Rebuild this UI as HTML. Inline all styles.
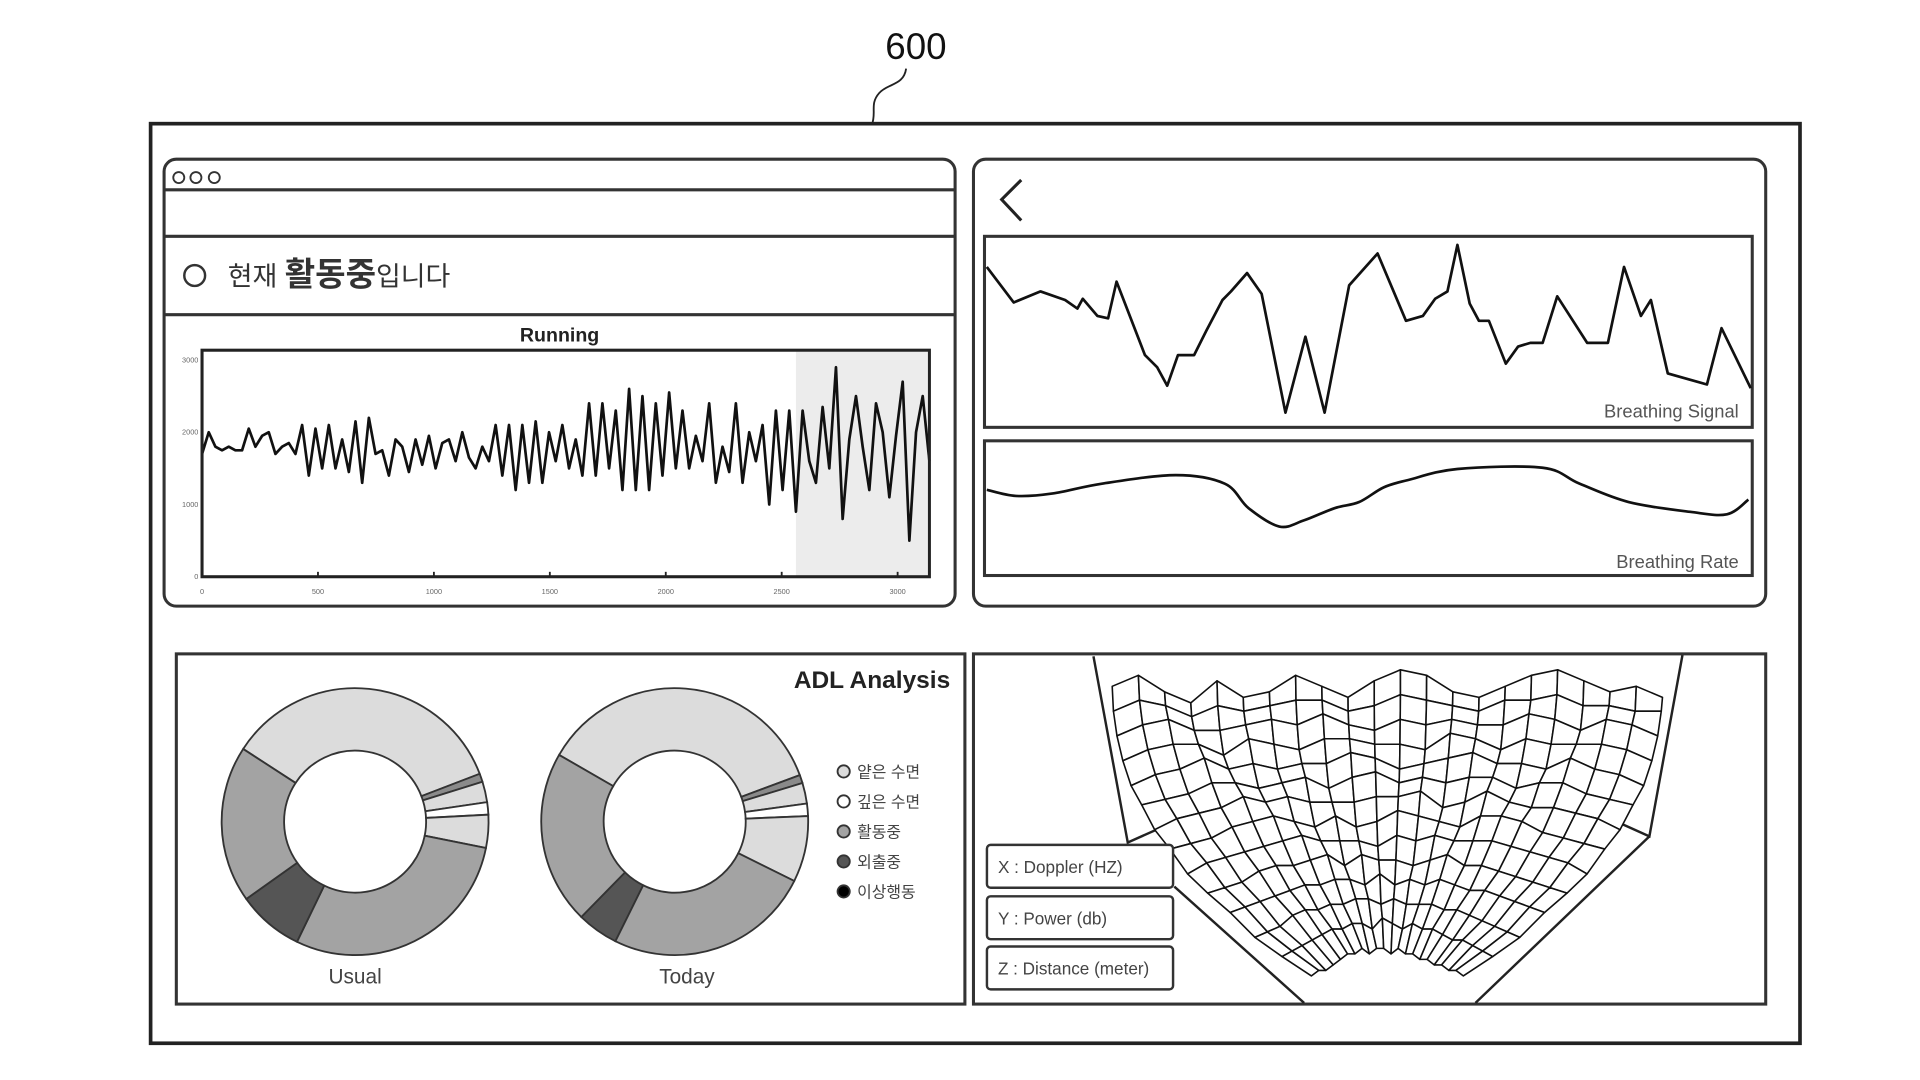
<!DOCTYPE html>
<html><head><meta charset="utf-8"><style>
html,body{margin:0;padding:0;background:#fff;width:1920px;height:1080px;overflow:hidden}
svg{display:block}
text{font-family:"Liberation Sans","Noto Sans CJK KR",sans-serif}
</style></head><body>
<svg id="s" width="1920" height="1080" viewBox="0 0 1568 882" preserveAspectRatio="none" xmlns="http://www.w3.org/2000/svg">
<defs><clipPath id="pc"><rect x="796" y="536" width="645" height="283"/></clipPath></defs>
<text x="748" y="48" font-size="30" text-anchor="middle" fill="#111">600</text>
<path d="M740 56 C738 70,725 68,718 76 C710 85,716 92,712 102" fill="none" stroke="#222" stroke-width="1.5"/>
<rect x="123" y="101" width="1347" height="751" fill="none" stroke="#222" stroke-width="3"/>

<g>
<rect x="134" y="130" width="646" height="365" rx="10" fill="none" stroke="#333" stroke-width="2.5"/>
<line x1="134" y1="155" x2="780" y2="155" stroke="#333" stroke-width="2.5"/>
<line x1="134" y1="193" x2="780" y2="193" stroke="#333" stroke-width="2.5"/>
<line x1="134" y1="257" x2="780" y2="257" stroke="#333" stroke-width="2.5"/>
<circle cx="146" cy="145" r="4.5" fill="none" stroke="#333" stroke-width="1.5"/>
<circle cx="160" cy="145" r="4.5" fill="none" stroke="#333" stroke-width="1.5"/>
<circle cx="175" cy="145" r="4.5" fill="none" stroke="#333" stroke-width="1.5"/>
<circle cx="159" cy="225" r="8.5" fill="none" stroke="#333" stroke-width="2"/>
<text x="186" y="233" font-size="22" fill="#333">현재 <tspan font-size="27" font-weight="bold">활동중</tspan>입니다</text>
<text x="457" y="279" font-size="16" font-weight="bold" text-anchor="middle" fill="#222">Running</text>
<rect x="650" y="287" width="107" height="183" fill="#ececec"/>
<g id="run"></g>
<rect x="165" y="286" width="594" height="185" fill="none" stroke="#222" stroke-width="2.5"/>
</g>

<g>
<rect x="795" y="130" width="647" height="365" rx="10" fill="none" stroke="#333" stroke-width="2.5"/>
<path d="M834 147 L818 163 L834 180" fill="none" stroke="#222" stroke-width="2.5"/>
<rect x="804" y="193" width="627" height="156" fill="none" stroke="#333" stroke-width="2.5"/>
<rect x="804" y="360" width="627" height="110" fill="none" stroke="#333" stroke-width="2.5"/>
<g id="br"></g>
<text x="1420" y="341" font-size="15" text-anchor="end" fill="#555">Breathing Signal</text>
<text x="1420" y="464" font-size="15" text-anchor="end" fill="#555">Breathing Rate</text>
</g>

<g>
<rect x="144" y="534" width="644" height="286" fill="none" stroke="#333" stroke-width="2.5"/>
<text x="776" y="562" font-size="20" font-weight="bold" text-anchor="end" fill="#222">ADL Analysis</text>
<g id="donuts"></g>
<text x="290" y="803" font-size="17" text-anchor="middle" fill="#444">Usual</text>
<text x="561" y="803" font-size="17" text-anchor="middle" fill="#444">Today</text>
<g id="legend"></g>
</g>

<g>
<rect x="795" y="534" width="647" height="286" fill="none" stroke="#333" stroke-width="2.5"/>
<polyline points="893,536 921,688 975,664" fill="none" stroke="#222" stroke-width="2"/>
<polyline points="1374,535 1347,683 1298,661" fill="none" stroke="#222" stroke-width="2"/>
<line x1="959" y1="724" x2="1065" y2="819" stroke="#222" stroke-width="2"/>
<line x1="1205" y1="819" x2="1347" y2="683" stroke="#222" stroke-width="2"/>
<g id="surf" clip-path="url(#pc)"></g>
<g><rect x="806" y="690" width="152" height="35" rx="3" fill="#fff" stroke="#333" stroke-width="2"/><text x="815" y="713" font-size="14" fill="#444">X : Doppler (HZ)</text></g>
<g><rect x="806" y="732" width="152" height="35" rx="3" fill="#fff" stroke="#333" stroke-width="2"/><text x="815" y="755" font-size="14" fill="#444">Y : Power (db)</text></g>
<g><rect x="806" y="773" width="152" height="35" rx="3" fill="#fff" stroke="#333" stroke-width="2"/><text x="815" y="796" font-size="14" fill="#444">Z : Distance (meter)</text></g>
</g>
</svg>
<script>
// ---- Running chart data ----
const runValues=[1700,2000,1800,1750,1800,1750,1750,2050,1800,1950,2000,1700,1800,1850,1700,2100,1400,2050,1500,2100,1500,1900,1450,2150,1300,2200,1700,1750,1400,1900,1800,1450,1900,1550,1950,1500,1850,1900,1600,2000,1650,1500,1800,1600,2100,1400,2100,1200,2100,1300,2150,1300,2000,1600,2100,1500,1900,1400,2400,1400,2400,1500,2300,1200,2600,1200,2500,1200,2400,1400,2550,1500,2300,1500,1950,1600,2400,1300,1800,1450,2400,1300,2000,1600,2100,1000,2300,1200,2300,900,2300,1600,1300,2350,1500,2900,800,1900,2500,1800,1200,2400,2000,1100,1950,2700,500,2000,2500,1600];
const runYTicks=[0,1000,2000,3000];
const runXTicks=[0,500,1000,1500,2000,2500,3000];
const runXMax=3137;
// ---- Breathing data ----
const sigTimes=[0.3,3.8,7.3,10.5,12.1,12.8,14.7,16.1,17.2,20.9,22.5,23.8,25.2,27.3,28.9,31.0,32.1,34.2,36.1,39.2,41.8,44.3,47.5,51.2,54.9,57.1,58.7,60.3,61.6,63.2,64.4,65.7,67.9,69.5,71.1,72.7,74.6,78.5,81.2,83.3,85.5,86.8,89.0,94.1,96.0,99.8];
const sigValues=[131,102,111,104,97,105,91,89,119,59,49,34,59,59,79,104,111,126,109,12,74,12,116,142,87,91,105,111,149,101,87,87,52,66,69,69,107,69,69,131,91,104,44,35,81,32];
const rateTimes=[0.3,4.1,8.9,15.3,24.9,31.3,34.4,38.4,41.6,45.6,48.8,52.0,55.2,61.6,72.7,77.5,83.9,91.9,96.7,99.5];
const rateValues=[70,65,67,75,82,75,55,40,45,55,60,72,78,87,88,75,60,52,50,62];
// ---- ADL data ----
const adlCategories=['얕은 수면','깊은 수면','활동중','외출중','이상행동'];
const sliceCats=[0,'h',0,1,0,2,3,2];
const usualValues=[35,1,2.5,1.5,4,29,8,19];
const todayValues=[36,1,2.5,1.5,8,25,5,21];
// ---- Surface heights ----
const surfHeights=[
[7,9,6,4,8,5,6,9,7,5,8,10,9,6,5,7,9,10,8,6,7,5],
[6,8,7,5,7,6,7,8,8,6,7,9,8,7,6,8,8,9,7,7,6,6],
[5,7,8,6,6,7,8,7,9,7,6,8,7,8,7,7,9,8,6,8,7,5],
[4,6,7,7,5,8,7,6,8,8,7,7,6,9,8,6,8,7,7,7,6,4],
[3,5,6,8,6,7,6,7,7,9,8,6,7,8,9,7,7,6,8,6,5,3],
[3,4,5,7,7,6,7,8,6,8,9,7,8,7,8,8,6,7,7,5,4,3],
[2,4,5,6,8,7,8,7,7,7,8,8,9,6,7,9,7,6,6,5,4,2],
[2,3,4,6,7,8,7,6,8,6,7,9,8,7,6,8,8,7,5,4,3,2],
[1,3,4,5,6,7,8,7,7,7,6,8,7,8,7,7,7,6,5,4,3,1],
[1,2,3,5,6,6,7,8,6,8,7,7,6,7,8,6,6,5,4,3,2,1],
[1,2,3,4,5,6,6,7,7,6,8,6,7,6,7,6,5,5,4,3,2,1],
[0,1,2,4,5,5,6,6,7,7,6,7,6,6,6,5,5,4,3,2,1,0],
[0,1,2,3,4,5,5,6,6,5,7,6,5,6,5,5,4,3,3,2,1,0],
[0,1,1,2,3,4,4,5,4,5,5,4,5,4,4,3,3,2,2,1,1,0]];

const NS='http://www.w3.org/2000/svg';
function mk(tag,attrs,parent){const e=document.createElementNS(NS,tag);for(const k in attrs)e.setAttribute(k,attrs[k]);parent.appendChild(e);return e;}

// Running chart
const run=document.getElementById('run');
const rx=v=>165+v*(594/runXMax), ry=v=>471-v*(177/3000);
runYTicks.forEach(t=>{
  const tl=mk('text',{x:162,y:ry(t)+2,'font-size':6,'text-anchor':'end',fill:'#666'},run);tl.textContent=t;
  
  
});
runXTicks.forEach(t=>{
  const tm=mk('line',{x1:rx(t),y1:471,x2:rx(t),y2:467,stroke:'#222','stroke-width':1.5},run);
  
  
  const tl=mk('text',{x:rx(t),y:485,'font-size':6,'text-anchor':'middle',fill:'#666'},run);tl.textContent=t;
  
  
});
const step=runXMax/(runValues.length-1);
const rl=mk('polyline',{points:runValues.map((v,i)=>rx(i*step)+','+ry(v)).join(' '),fill:'none',stroke:'#111','stroke-width':2.2,'stroke-linejoin':'round'},run);



// Breathing
const br=document.getElementById('br');
const bx=t=>804+t*6.27;
const sl=mk('polyline',{points:sigTimes.map((t,i)=>bx(t)+','+(349-sigValues[i])).join(' '),fill:'none',stroke:'#111','stroke-width':2.2,'stroke-linejoin':'round'},br);


const rp=rateTimes.map((t,i)=>[bx(t),470-rateValues[i]]);
let d='M'+rp[0][0]+' '+rp[0][1];
for(let i=0;i<rp.length-1;i++){const p0=rp[Math.max(0,i-1)],p1=rp[i],p2=rp[i+1],p3=rp[Math.min(rp.length-1,i+2)];
d+=` C${p1[0]+(p2[0]-p0[0])/6} ${p1[1]+(p2[1]-p0[1])/6},${p2[0]-(p3[0]-p1[0])/6} ${p2[1]-(p3[1]-p1[1])/6},${p2[0]} ${p2[1]}`;}
const rtl=mk('path',{d:d,fill:'none',stroke:'#111','stroke-width':2.2},br);



// Donuts
const fills={0:'#dcdcdc',1:'#ffffff',2:'#a3a3a3',3:'#555555',4:'#000000',h:'#8a8a8a'};
const dg=document.getElementById('donuts');
function donut(cx,cy,vals,start,name){
  const tot=vals.reduce((a,b)=>a+b,0);let a=start;const R=109,r=58;
  vals.forEach((v,i)=>{const a2=a+v/tot*360;const p=(ang,rad)=>{const t=(ang-90)*Math.PI/180;return [cx+rad*Math.cos(t),cy+rad*Math.sin(t)];};
    const lg=(a2-a)>180?1:0;const o1=p(a,R),o2=p(a2,R),i1=p(a2,r),i2=p(a,r);
    const sp=mk('path',{d:`M${o1} A${R} ${R} 0 ${lg} 1 ${o2} L${i1} A${r} ${r} 0 ${lg} 0 ${i2} Z`,fill:fills[sliceCats[i]],stroke:'#333','stroke-width':1.5},dg);
    
    
    a=a2;});
}
donut(290,671,usualValues,-57,'usual');
donut(551,671,todayValues,-60,'today');
const lg=document.getElementById('legend');
adlCategories.forEach((c,i)=>{const y=630+i*24.5;
  const g=mk('g',{},lg);
  
  
  mk('circle',{cx:689,cy:y,r:5,fill:fills[i],stroke:'#333','stroke-width':1.5},g);
  const t=mk('text',{x:700,y:y+5,'font-size':13,fill:'#444'},g);t.textContent=c;});

// Surface
const sg=document.getElementById('surf');
const R=surfHeights.length,C=surfHeights[0].length;
function proj(v,u){const f=v/(R-1);const w=21.4-f*f*15.5;const cx=1133;const x=cx+(u-(C-1)/2)*w;const y=592+v*(205/(R-1))-surfHeights[v][u]*4.5;return x.toFixed(1)+','+y.toFixed(1);}
for(let v=0;v<R-1;v++)for(let u=0;u<C-1;u++){
  const q=mk('polygon',{points:[proj(v,u),proj(v,u+1),proj(v+1,u+1),proj(v+1,u)].join(' '),fill:'#fff',stroke:'#111','stroke-width':1.3,'stroke-linejoin':'round'},sg);
  
  
}
</script>
</body></html>
